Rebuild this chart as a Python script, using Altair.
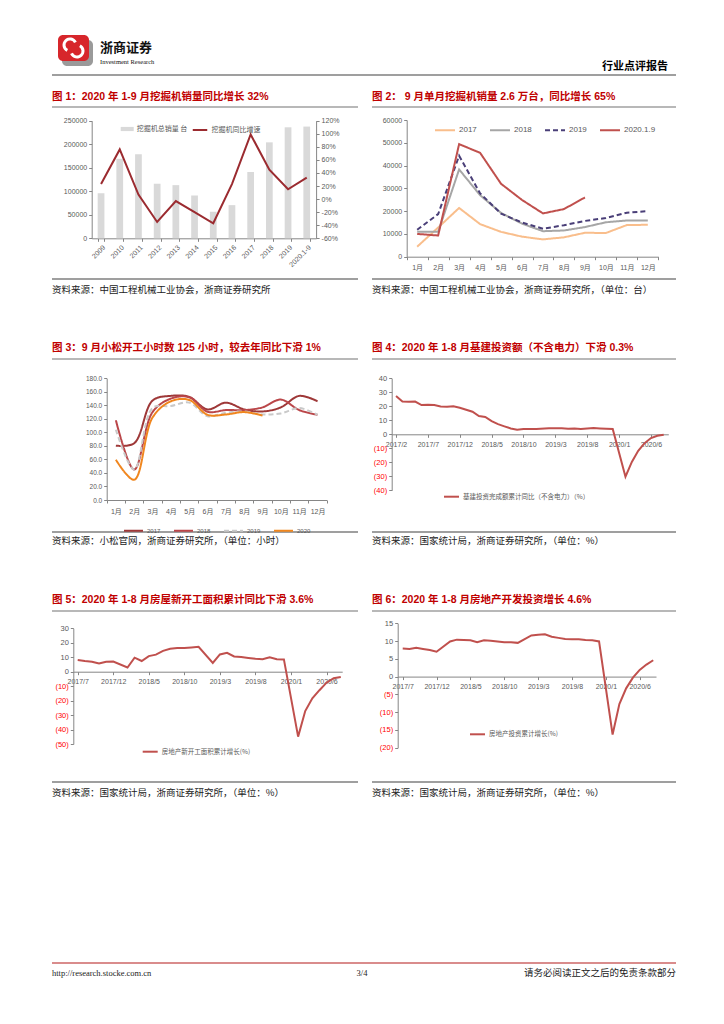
import altair as alt
import pandas as pd

# ======================= DATA =======================
# Figure 1: annual excavator sales (units) and YoY growth (%)
f1_years = ["2009", "2010", "2011", "2012", "2013", "2014", "2015", "2016",
            "2017", "2018", "2019", "2020.1-9"]
f1_sales = [95800, 169000, 178500, 116000, 113000, 91000, 56500, 70500,
            141000, 204000, 236000, 237500]
f1_growth = [23, 76, 7, -35, -3, -20, -37, 23, 99, 45, 15, 33]
f1_bar_name = "挖掘机总销量 台"
f1_line_name = "挖掘机同比增速"

# Figure 2: monthly excavator sales (units)
f2_months = ["1月", "2月", "3月", "4月", "5月", "6月", "7月", "8月", "9月", "10月", "11月", "12月"]
f2_series = ["2017", "2018", "2019", "2020.1.9"]
f2_2017 = [4400, 12800, 21400, 14300, 10900, 8800, 7600, 8500, 10500, 10400, 13900, 14000]
f2_2018 = [10900, 10900, 38300, 27000, 19200, 14500, 11200, 11500, 13000, 15100, 15900, 15900]
f2_2019 = [11800, 18700, 44300, 27800, 18900, 15000, 12300, 13800, 15700, 17000, 19300, 20000]
f2_2020 = [10000, 9300, 49400, 45600, 32000, 24900, 19000, 20900, 26000]

# Figure 3: Komatsu working hours (hours)
f3_series = ["2017", "2018", "2019", "2020"]
f3_2017 = [80.4, 84.0, 147.0, 154.0, 152.5, 134.0, 144.0, 134.0, 131.0, 137.0, 154.0, 146.0]
f3_2018 = [118.0, 45.0, 130.0, 150.0, 152.0, 130.5, 133.0, 133.0, 137.0, 148.5, 133.0, 126.0]
f3_2019 = [104.0, 45.0, 136.0, 139.0, 144.0, 124.0, 129.0, 131.0, 126.5, 128.0, 136.0, 126.0]
f3_2020 = [59.6, 30.0, 122.0, 146.0, 148.0, 126.0, 126.5, 130.0, 125.0]

# Figure 4: infrastructure investment (ex. power), cumulative YoY %
f4_months = ([f"{y}/{m}" for y in (2017, 2018, 2019) for m in range(2, 13)]
             + [f"2020/{m}" for m in range(2, 9)])
f4_values = [27.3, 23.5, 23.3, 23.4, 20.9, 21.1, 20.9, 19.8, 19.6, 20.1, 19.0,
             16.1, 13.0, 12.4, 9.4, 7.3, 5.7, 4.2, 3.3, 3.7, 3.7, 3.8,
             4.3, 4.4, 4.4, 4.0, 4.1, 3.8, 4.2, 4.5, 4.2, 4.0, 3.8,
             -30.3, -19.7, -11.8, -6.3, -2.7, -1.0, -0.3]
f4_ticks = ["2017/2", "2017/7", "2017/12", "2018/5", "2018/10", "2019/3", "2019/8", "2020/1", "2020/6"]
f4_name = "基建投资完成额累计同比（不含电力）（%）"

# Figures 5 & 6 share the month axis
f56_months = ([f"2017/{m}" for m in range(7, 13)]
              + [f"{y}/{m}" for y in (2018, 2019) for m in range(2, 13)]
              + [f"2020/{m}" for m in range(2, 9)])
f56_ticks = ["2017/7", "2017/12", "2018/5", "2018/10", "2019/3", "2019/8", "2020/1", "2020/6"]
f5_values = [8.1, 7.4, 6.9, 5.6, 6.9, 7.0,
             2.9, 9.7, 7.4, 10.8, 11.8, 14.4, 15.9, 16.4, 16.3, 16.8, 17.2,
             6.0, 11.9, 13.1, 10.5, 10.1, 9.5, 8.9, 8.6, 10.0, 8.6, 8.5,
             -44.9, -27.2, -18.4, -12.8, -7.6, -4.5, -3.6]
f5_name = "房地产新开工面积累计增长(%)"
f6_values = [7.9, 7.8, 8.1, 7.8, 7.5, 7.0,
             9.9, 10.4, 10.3, 10.2, 9.7, 10.2, 10.1, 9.9, 9.7, 9.7, 9.5,
             11.6, 11.8, 11.9, 11.2, 10.9, 10.6, 10.5, 10.5, 10.3, 10.2, 9.9,
             -16.3, -7.7, -3.3, -0.3, 1.9, 3.4, 4.6]
f6_name = "房地产投资累计增长(%)"

# Page texts
titles = ["图 1：2020 年 1-9 月挖掘机销量同比增长 32%",
          "图 2：  9 月单月挖掘机销量 2.6 万台，同比增长 65%",
          "图 3：9 月小松开工小时数 125 小时，较去年同比下滑 1%",
          "图 4：2020 年 1-8 月基建投资额（不含电力）下滑 0.3%",
          "图 5：2020 年 1-8 月房屋新开工面积累计同比下滑 3.6%",
          "图 6：2020 年 1-8 月房地产开发投资增长 4.6%"]
sources = ["资料来源：中国工程机械工业协会，浙商证券研究所",
           "资料来源：中国工程机械工业协会，浙商证券研究所，（单位：台）",
           "资料来源：小松官网，浙商证券研究所，（单位：小时）",
           "资料来源：国家统计局，浙商证券研究所，（单位：%）",
           "资料来源：国家统计局，浙商证券研究所，（单位：%）",
           "资料来源：国家统计局，浙商证券研究所，（单位：%）"]

# ======================= HELPERS =======================
W, H = 708, 1008
FONT = "Liberation Sans, Noto Sans CJK SC"
CJK = "Noto Sans CJK SC"
ONE = pd.DataFrame({"k": [0]})


def P(v):
    return v - 8


def midx(s):
    y, m = s.split("/")
    return (int(y) - 2017) * 12 + int(m)


def ax(**kw):
    base = dict(title=None, grid=False, domainColor="#868686", tickColor="#868686",
                labelColor="#595959", labelFont=FONT, labelFontSize=7, tickSize=3,
                labelPadding=2, domainWidth=1, tickWidth=1, labelFlush=False,
                labelOverlap=False)
    base.update(kw)
    return alt.Axis(**base)


def leg(x, y, **kw):
    base = dict(orient="none", legendX=x, legendY=y, direction="horizontal", title=None,
                labelFont=CJK, labelFontSize=7, labelColor="#595959", padding=0,
                labelOffset=3, columnPadding=8, symbolType="stroke", symbolStrokeWidth=2,
                symbolSize=225)
    base.update(kw)
    return alt.Legend(**base)


def txt(s, x, y, size=9, color="#000000", weight="normal", align="left", font=CJK):
    return alt.Chart(ONE).mark_text(fontSize=size, color=color, fontWeight=weight,
                                    align=align, baseline="middle", font=font).encode(
        x=alt.value(P(x)), y=alt.value(P(y)), text=alt.value(s))


def hrule(x1, x2, y, color="#868686", w=1.5):
    return alt.Chart(ONE).mark_rule(color=color, strokeWidth=w).encode(
        x=alt.value(P(x1)), x2=alt.value(P(x2)), y=alt.value(P(y)))


def box(x1, y1, x2, y2, color, r=4):
    return alt.Chart(ONE).mark_rect(color=color, cornerRadius=r).encode(
        x=alt.value(P(x1)), x2=alt.value(P(x2)), y=alt.value(P(y1)), y2=alt.value(P(y2)))


def arc(cx, cy, r1, r2, t1, t2):
    return alt.Chart(ONE).mark_arc(color="white", radius=r2, radius2=r1,
                                   theta=t1, theta2=t2).encode(
        x=alt.value(P(cx)), y=alt.value(P(cy)))


neg_color = {"condition": {"test": "datum.value < 0", "value": "#FF0000"}, "value": "#595959"}
neg_expr = "datum.value < 0 ? '(' + abs(datum.value) + ')' : datum.value + ''"
month_expr = "(2017 + floor((datum.value - 1) / 12)) + '/' + ((datum.value - 1) % 12 + 1)"

# ======================= FIGURE 1 =======================
df1 = pd.DataFrame({"year": f1_years, "sales": f1_sales, "growth": f1_growth,
                    "bs": f1_bar_name, "ls": f1_line_name})
x1_scale = alt.Scale(range=[P(91.7), P(316.1)], paddingInner=0.64, paddingOuter=0.32)
x1_axis = ax(orient="bottom", offset=P(238.3) - H, labelAngle=315, tickBand="extent")
bars1 = alt.Chart(df1).mark_bar().encode(
    x=alt.X("year:N", sort=f1_years, scale=x1_scale, axis=x1_axis),
    y=alt.Y("sales:Q", scale=alt.Scale(domain=[0, 250000], range=[P(238.3), P(120.7)], nice=False),
            axis=ax(orient="left", offset=-P(91.7), values=list(range(0, 250001, 50000)), format="d")),
    color=alt.Color("bs:N", scale=alt.Scale(range=["#D9D9D9"]),
                    legend=leg(P(120.7), P(129) - 6.5, symbolType="M-1,-0.32H1V0.32H-1Z",
                               symbolSize=169, symbolStrokeWidth=0)))
line1 = alt.Chart(df1).mark_line(strokeWidth=2).encode(
    x=alt.X("year:N", sort=f1_years, scale=x1_scale, axis=x1_axis, bandPosition=0.5),
    y=alt.Y("growth:Q", scale=alt.Scale(domain=[-60, 120], range=[P(238.3), P(120.7)], nice=False),
            axis=ax(orient="right", offset=P(316.1) - W, values=list(range(-60, 121, 20)),
                    labelExpr="datum.value + '%'")),
    stroke=alt.Stroke("ls:N", scale=alt.Scale(range=["#9B2B30"]),
                      legend=leg(P(191.5), P(129) - 7.5, symbolSize=210)))
fig1 = alt.layer(bars1, line1).resolve_scale(y="independent")

# ======================= FIGURE 2 =======================
rows2 = []
for s, vals in zip(f2_series, [f2_2017, f2_2018, f2_2019, f2_2020]):
    for m, v in zip(f2_months, vals):
        rows2.append({"month": m, "series": s, "value": v})
df2 = pd.DataFrame(rows2)
leg2 = leg(P(434), P(129.3) - 10, symbolSize=400, labelFont=FONT, labelFontSize=8, columnPadding=9)
fig2 = alt.Chart(df2).mark_line(strokeWidth=2).encode(
    x=alt.X("month:N", sort=f2_months, bandPosition=0.5,
            scale=alt.Scale(type="band", range=[P(406.7), P(658.3)], paddingInner=0, paddingOuter=0),
            axis=ax(orient="bottom", offset=P(256.7) - H, tickBand="extent", labelAngle=0, labelPadding=4)),
    y=alt.Y("value:Q", scale=alt.Scale(domain=[0, 60000], range=[P(256.7), P(120)], nice=False),
            axis=ax(orient="left", offset=-P(406.7), values=list(range(0, 60001, 10000)), format="d")),
    color=alt.Color("series:N", sort=f2_series,
                    scale=alt.Scale(domain=f2_series, range=["#F9BE8C", "#A6A6A6", "#4A3F78", "#C0504D"]),
                    legend=leg2),
    strokeDash=alt.StrokeDash("series:N", sort=f2_series,
                              scale=alt.Scale(domain=f2_series, range=[[1, 0], [1, 0], [5, 3], [1, 0]]),
                              legend=leg2),
    order=alt.Order("series:N"))

# ======================= FIGURE 3 =======================
rows3 = []
for s, vals in zip(f3_series, [f3_2017, f3_2018, f3_2019, f3_2020]):
    for m, v in zip(f2_months, vals):
        rows3.append({"month": m, "series": s, "value": v})
df3 = pd.DataFrame(rows3)
leg3 = leg(P(123), P(529.5) - 9.5, symbolSize=361, labelFont=FONT, labelFontSize=6, columnPadding=9)
fig3 = alt.Chart(df3).mark_line(strokeWidth=2, interpolate="catmull-rom").encode(
    x=alt.X("month:N", sort=f2_months, bandPosition=0.5,
            scale=alt.Scale(type="band", range=[P(106.7), P(326.7)], paddingInner=0, paddingOuter=0),
            axis=ax(orient="bottom", offset=P(500) - H, tickBand="extent", labelAngle=0, labelPadding=4)),
    y=alt.Y("value:Q", scale=alt.Scale(domain=[0, 180], range=[P(500), P(378.3)], nice=False),
            axis=ax(orient="left", offset=-P(106.7), values=list(range(0, 181, 20)), format=".1f",
                    labelFontSize=6.5)),
    color=alt.Color("series:N", sort=f3_series,
                    scale=alt.Scale(domain=f3_series, range=["#9E3838", "#BA4649", "#C9C9C9", "#F0861E"]),
                    legend=leg3),
    strokeDash=alt.StrokeDash("series:N", sort=f3_series,
                              scale=alt.Scale(domain=f3_series, range=[[1, 0], [1, 0], [5, 3], [1, 0]]),
                              legend=leg3))


# ======================= FIGURES 4-6 =======================
def ts_chart(months, values, name, ticks, xr, xd, yr, yd, yvals, zero_y, lx, ly):
    d = pd.DataFrame({"t": [midx(m) for m in months], "v": values, "s": name})
    return alt.Chart(d).mark_line(strokeWidth=2).encode(
        x=alt.X("t:Q", scale=alt.Scale(domain=xd, range=[P(xr[0]), P(xr[1])], nice=False, zero=False),
                axis=ax(orient="bottom", offset=P(zero_y) - H, values=[midx(t) for t in ticks],
                        labelExpr=month_expr, labelPadding=3)),
        y=alt.Y("v:Q", scale=alt.Scale(domain=yd, range=[P(yr[0]), P(yr[1])], nice=False, zero=False),
                axis=ax(orient="left", offset=-P(xr[0]), values=yvals, labelExpr=neg_expr,
                        labelColor=neg_color, labelFontSize=7.5)),
        stroke=alt.Stroke("s:N", scale=alt.Scale(range=["#C0504D"]),
                          legend=leg(P(lx), P(ly) - 7.5, labelFontSize=6.5)))


fig4 = ts_chart(f4_months, f4_values, f4_name, f4_ticks, (391.7, 668.3), [1.32, 44.72],
                (490.3, 378.3), [-40, 40], list(range(-40, 41, 10)), 434.3, 443, 495.7)
fig5 = ts_chart(f56_months, f5_values, f5_name, f56_ticks, (73.3, 342.2), [6.38, 44.2],
                (744, 628.3), [-50, 30], list(range(-50, 31, 10)), 671.7, 141.7, 750.7)
fig6 = ts_chart(f56_months, f6_values, f6_name, f56_ticks, (397.7, 656), [6.26, 44.41],
                (747.7, 623.3), [-20, 15], list(range(-20, 16, 5)), 676.6, 469, 733.3)

# ======================= PAGE FURNITURE =======================
deco = [
    # logo
    box(62, 40, 93, 66, "#9A9A9A", 5),
    box(58, 35, 89, 61, "#D7262B", 5),
    arc(70, 45, 4.5, 7.5, 3.6, 7.4),
    arc(77, 51, 4.5, 7.5, 0.5, 4.3),
    txt("浙商证券", 100, 48, 13, "#111111", "bold"),
    txt("Investment Research", 100, 62, 6.5, "#111111", "normal", font="Liberation Serif"),
    txt("行业点评报告", 668, 67, 11, "#000000", "bold", "right"),
    hrule(52, 676, 75, "#7F7F7F", 1.5),
    # footer
    hrule(52, 676, 963, "#D98C8C", 2),
    txt("http://research.stocke.com.cn", 52, 973, 8.5, "#222222", font="Liberation Serif"),
    txt("3/4", 362, 973, 8.5, "#222222", align="center", font="Liberation Serif"),
    txt("请务必阅读正文之后的免责条款部分", 676, 973, 9.5, "#222222", align="right"),
]
title_pos = [(52, 97, 107), (372, 97, 107), (52, 348, 359), (372, 348, 359), (52, 600, 611), (372, 600, 611)]
source_pos = [(279, 289.5), (279, 289.5), (532, 541), (532, 541), (782, 792.5), (782, 792.5)]
for i, (tx, ty, uy) in enumerate(title_pos):
    x_end = 358 if tx < 100 else 676
    deco.append(txt(titles[i], tx, ty, 10.5, "#C00000", "bold", font=FONT))
    deco.append(hrule(tx, x_end, uy, "#A0A0A0", 1.5))
    ry, sy = source_pos[i]
    deco.append(hrule(tx, x_end, ry, "#7F7F7F", 1.5))
    deco.append(txt(sources[i], tx, sy, 9.5, "#222222"))

page = alt.layer(fig1, fig2, fig3, fig4, fig5, fig6, *deco).resolve_scale(
    x="independent", y="independent", color="independent", stroke="independent",
    strokeDash="independent").resolve_axis(x="independent", y="independent").resolve_legend(
    color="independent", stroke="independent", strokeDash="independent").properties(
    width=W, height=H, padding=0, autosize=alt.AutoSizeParams(type="none"),
    background="white").configure_view(stroke=None)

page.save("out.html", embed_options={"renderer": "svg", "actions": False})
